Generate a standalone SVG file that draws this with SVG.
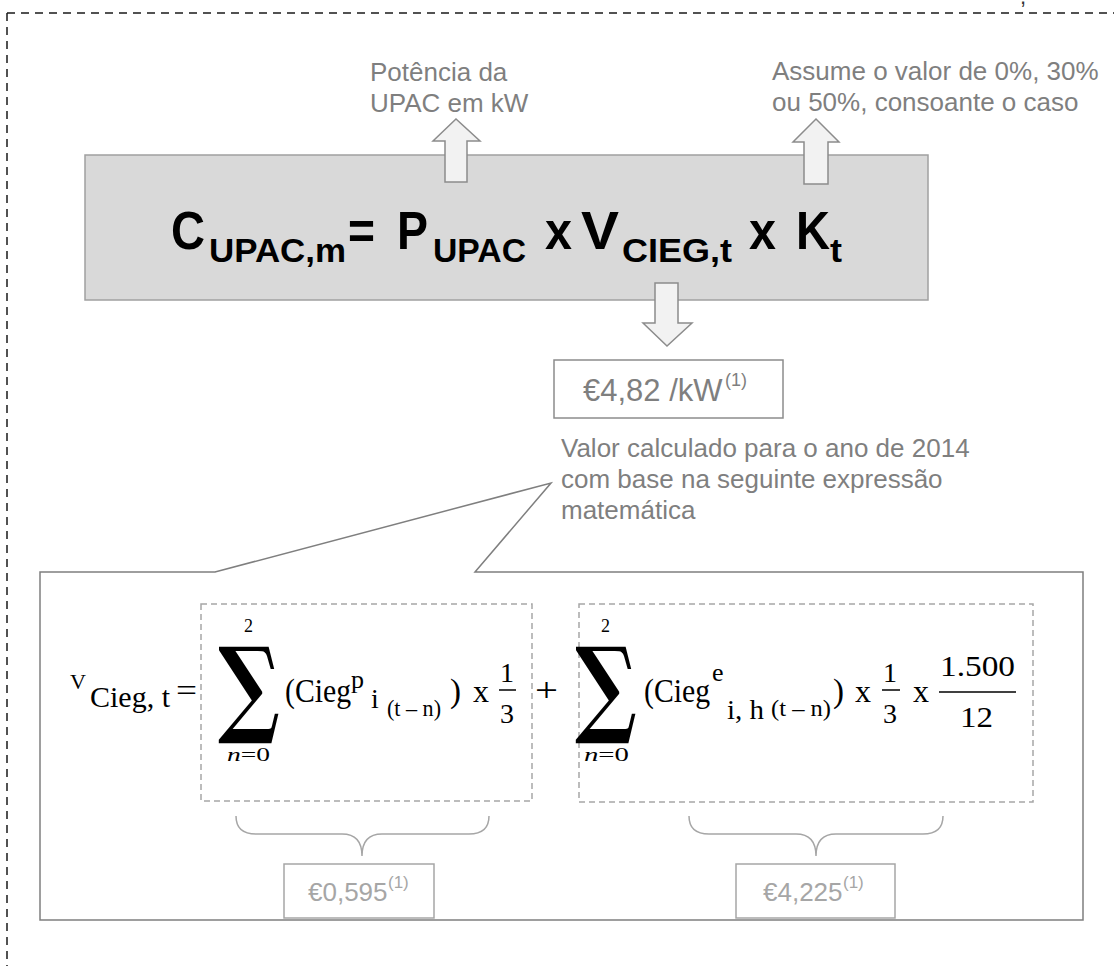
<svg xmlns="http://www.w3.org/2000/svg" width="1114" height="966" viewBox="0 0 1114 966">
<style>
.lbl{font-family:"Liberation Sans",Arial,sans-serif;font-size:26px;fill:#7f7f7f}
.big{font-family:"Liberation Sans",Arial,sans-serif;font-size:54px;font-weight:bold;fill:#000}
.sub{font-family:"Liberation Sans",Arial,sans-serif;font-size:34px;font-weight:bold;fill:#000}
.m{font-family:"Liberation Serif","Times New Roman",serif;fill:#000}
.sig{font-family:"DejaVu Serif",serif;font-weight:bold;fill:#000}
.blk{fill:#f2f2f2;stroke:#8c8c8c;stroke-width:1.5}
.dbox{fill:none;stroke:#a6a6a6;stroke-width:1.5;stroke-dasharray:6 4}
.vbox{fill:#fff;stroke:#a6a6a6;stroke-width:1.5}
.brace{fill:none;stroke:#a6a6a6;stroke-width:1.5}
.val{font-family:"Liberation Sans",Arial,sans-serif;fill:#a6a6a6}
</style>
<rect width="1114" height="966" fill="#fff"/>
<g id="frame">
<path d="M7 13 H1114 M7 13 V966" fill="none" stroke="#1a1a1a" stroke-width="1.5" stroke-dasharray="8 6"/>
<text x="1020" y="4" font-family="Liberation Sans,Arial,sans-serif" font-size="22" fill="#333">,</text>
</g>
<g id="main-formula">
<rect x="85" y="155" width="843" height="145" fill="#d9d9d9" stroke="#a0a0a0" stroke-width="1.5"/>
<text class="big" x="171" y="249" textLength="34" lengthAdjust="spacingAndGlyphs">C</text>
<text class="sub" x="209" y="262" textLength="137" lengthAdjust="spacingAndGlyphs">UPAC,m</text>
<text class="big" x="348" y="249" textLength="27" lengthAdjust="spacingAndGlyphs">=</text>
<text class="big" x="397" y="249" textLength="31" lengthAdjust="spacingAndGlyphs">P</text>
<text class="sub" x="433" y="262" textLength="93" lengthAdjust="spacingAndGlyphs">UPAC</text>
<text class="big" x="545" y="249" textLength="27" lengthAdjust="spacingAndGlyphs">x</text>
<text class="big" x="581" y="249" textLength="38" lengthAdjust="spacingAndGlyphs">V</text>
<text class="sub" x="622" y="262" textLength="110" lengthAdjust="spacingAndGlyphs">CIEG,t</text>
<text class="big" x="749" y="249" textLength="27" lengthAdjust="spacingAndGlyphs">x</text>
<text class="big" x="796" y="249" textLength="34" lengthAdjust="spacingAndGlyphs">K</text>
<text class="sub" x="830" y="262" textLength="12" lengthAdjust="spacingAndGlyphs">t</text>
</g>
<g id="label-potencia">
<text class="lbl" x="370" y="81">Potência da</text>
<text class="lbl" x="370" y="112">UPAC em kW</text>
</g>
<g id="label-kt">
<text class="lbl" x="772" y="80">Assume o valor de 0%, 30%</text>
<text class="lbl" x="772" y="111">ou 50%, consoante o caso</text>
</g>
<g id="value-box">
<rect x="554" y="360" width="229" height="58" fill="#fff" stroke="#8c8c8c" stroke-width="1.5"/>
<text x="583" y="401" font-family="Liberation Sans,Arial,sans-serif" font-size="31" fill="#7f7f7f">€4,82 /kW</text>
<text x="725" y="386" font-family="Liberation Sans,Arial,sans-serif" font-size="18" fill="#7f7f7f">(1)</text>
</g>
<g id="note">
<text class="lbl" x="561" y="457">Valor calculado para o ano de 2014</text>
<text class="lbl" x="561" y="488">com base na seguinte expressão</text>
<text class="lbl" x="561" y="519">matemática</text>
</g>
<g id="callout-box">
<path d="M40 572 H215 L551 483 L475 572 H1083 V920 H40 Z" fill="#fff" stroke="#7f7f7f" stroke-width="1.5"/>
</g>
<g id="term-v">
<text class="m" x="70" y="689" font-size="22" textLength="16" lengthAdjust="spacingAndGlyphs">V</text>
<text class="m" x="90" y="707" font-size="30" textLength="80" lengthAdjust="spacingAndGlyphs">Cieg, t</text>
<text class="m" x="176" y="701" font-size="32" textLength="21" lengthAdjust="spacingAndGlyphs">=</text>
</g>
<g id="term1">
<rect class="dbox" x="201" y="604" width="331" height="197"/>
<text class="m" x="244" y="632" font-size="18">2</text>
<text class="sig" x="218" y="723" font-size="106" textLength="62" lengthAdjust="spacingAndGlyphs">∑</text>
<text class="m" x="227" y="761" font-size="18" textLength="43" lengthAdjust="spacingAndGlyphs"><tspan font-style="italic">n</tspan>=0</text>
<text class="m" x="285" y="702" font-size="33" textLength="66" lengthAdjust="spacingAndGlyphs">(Cieg</text>
<text class="m" x="351" y="688" font-size="26">p</text>
<text class="m" x="371" y="708" font-size="28">i</text>
<text class="m" x="387" y="716" font-size="24" fill="#3a3a50" textLength="54" lengthAdjust="spacingAndGlyphs">(t – n)</text>
<text class="m" x="450" y="702" font-size="33">)</text>
<text class="m" x="473" y="702" font-size="32">x</text>
<text class="m" x="500" y="682" font-size="28">1</text>
<line x1="499" y1="690" x2="516" y2="690" stroke="#000" stroke-width="1.5"/>
<text class="m" x="500" y="723" font-size="28">3</text>
</g>
<text class="m" x="535" y="701" font-size="34" textLength="23" lengthAdjust="spacingAndGlyphs">+</text>
<g id="term2">
<rect class="dbox" x="579" y="604" width="454" height="198"/>
<text class="m" x="601" y="632" font-size="18">2</text>
<text class="sig" x="575" y="723" font-size="106" textLength="62" lengthAdjust="spacingAndGlyphs">∑</text>
<text class="m" x="584" y="761" font-size="18" textLength="45" lengthAdjust="spacingAndGlyphs"><tspan font-style="italic">n</tspan>=0</text>
<text class="m" x="644" y="702" font-size="33" textLength="66" lengthAdjust="spacingAndGlyphs">(Cieg</text>
<text class="m" x="712" y="681" font-size="26">e</text>
<text class="m" x="727" y="719" font-size="28" textLength="37" lengthAdjust="spacingAndGlyphs">i, h</text>
<text class="m" x="771" y="716" font-size="24" fill="#3a3a50" textLength="60" lengthAdjust="spacingAndGlyphs">(t – n)</text>
<text class="m" x="833" y="702" font-size="33">)</text>
<text class="m" x="855" y="702" font-size="32">x</text>
<text class="m" x="883" y="682" font-size="28">1</text>
<line x1="882" y1="690" x2="900" y2="690" stroke="#000" stroke-width="1.5"/>
<text class="m" x="883" y="723" font-size="28">3</text>
<text class="m" x="913" y="702" font-size="32">x</text>
<text class="m" x="940" y="676" font-size="30" textLength="75" lengthAdjust="spacingAndGlyphs">1.500</text>
<line x1="939" y1="692" x2="1016" y2="692" stroke="#000" stroke-width="1.5"/>
<text class="m" x="960" y="727" font-size="30" textLength="33" lengthAdjust="spacingAndGlyphs">12</text>
</g>
<g id="value1">
<rect class="vbox" x="284" y="864" width="150" height="54"/>
<text class="val" x="308" y="901" font-size="26">€0,595</text>
<text class="val" x="388" y="888" font-size="17">(1)</text>
</g>
<g id="value2">
<rect class="vbox" x="736" y="864" width="159" height="54"/>
<text class="val" x="763" y="901" font-size="26">€4,225</text>
<text class="val" x="843" y="888" font-size="17">(1)</text>
</g>
<g id="connectors">
<polygon class="blk" points="445,182 445,141 433,141 456,119 480,141 467,141 467,182"/>
<polygon class="blk" points="804,184 804,142 793,142 816,119 839,142 828,142 828,184"/>
<polygon class="blk" points="655,283 678,283 678,323 692,323 667,346 643,323 655,323"/>
<path class="brace" d="M236 816 Q236 834 256 834 H342 Q362 834 362 856 Q362 834 382 834 H469 Q489 834 489 816"/>
<path class="brace" d="M689 816 Q689 834 709 834 H796 Q816 834 816 856 Q816 834 836 834 H923 Q943 834 943 816"/>
</g>
</svg>
